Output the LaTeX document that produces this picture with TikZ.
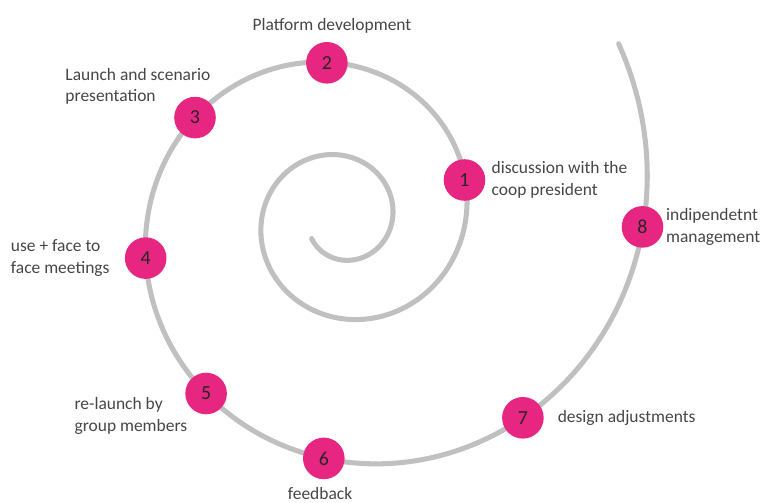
\documentclass[tikz,border=0pt]{standalone}
\usepackage{fontspec}
\setmainfont{Carlito}
\usepackage{tikz}
\usetikzlibrary{positioning}
\definecolor{stagepink}{RGB}{231,38,130}
\definecolor{trackgray}{RGB}{192,192,192}
\definecolor{notegray}{RGB}{70,70,70}
\tikzset{
	stage/.style={circle, inner sep=0pt, minimum size=35.5pt, fill=stagepink, text=black!85, font=\fontsize{17pt}{20pt}\selectfont},
	note/.style={inner sep=0pt, align=left, text=notegray, font=\fontsize{14.9pt}{18.4pt}\selectfont},
	track/.style={draw=trackgray, line width=4.3pt, line cap=round},
}

\begin{document}
\begin{tikzpicture}[x=0.03cm, y=-0.03cm, declare function={sr(\t)=51.1*exp(0.1416*rad(\t));}]
	\useasboundingbox (0,0) rectangle (773,503);
	
	% the spiral, drawn first so the stages sit on top of it
	\draw[track] plot[domain=-146.7:752.3, samples=400, smooth, variable=\t] ({341.4+sr(\t)*cos(\t)},{219-sr(\t)*sin(\t)});
	
	\node (c1) [stage] at (464.5,180.0) {1};
	\node (n1) [note, right=5pt of c1] {discussion with the\\coop president};
	
	\node (c2) [stage] at (326.9,62.8) {2};
	\node (n2) [note, above=7pt of c2, xshift=4.3pt] {Platform development};
	
	\node (c3) [stage] at (195.0,117.6) {3};
	\node (n3) [note, above=-7.2pt of c3, xshift=-48.7pt] {Launch and scenario\\presentation};
	
	\node (c4) [stage] at (145.7,258.1) {4};
	\node (n4) [note, left=12.8pt of c4] {use + face to\\face meetings};
	
	\node (c5) [stage] at (206.1,393.5) {5};
	\node (n5) [note, left=-2pt of c5, yshift=-19.2pt] {re-launch by\\group members};
	
	\node (c6) [stage] at (323.8,458.4) {6};
	\node (n6) [note, below=6.5pt of c6, xshift=-3.2pt] {feedback};
	
	\node (c7) [stage] at (522.9,417.8) {7};
	\node (n7) [note, right=11.6pt of c7] {design adjustments};
	
	\node (c8) [stage] at (642.5,226.9) {8};
	\node (n8) [note, right=2pt of c8] {indipendetnt\\management};
	
\end{tikzpicture}
\end{document}
